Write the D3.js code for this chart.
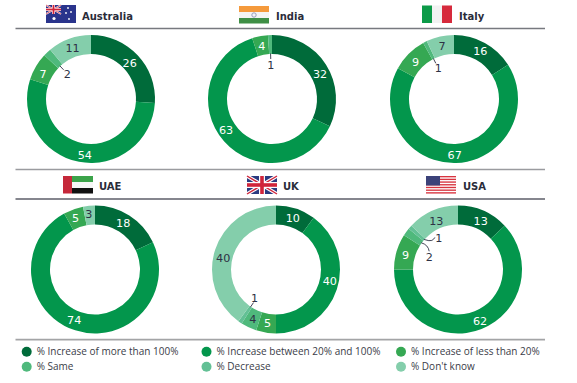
<!DOCTYPE html>
<html><head><meta charset="utf-8">
<script src="https://cdnjs.cloudflare.com/ajax/libs/d3/7.8.5/d3.min.js"></script>
<style>html,body{margin:0;padding:0;background:#fff}svg{display:block}</style>
</head><body><svg id="c" width="577" height="383"></svg>
<script>
const categories=["% Increase of more than 100%","% Increase between 20% and 100%","% Increase of less than 20%","% Same","% Decrease","% Don't know"];
const colors=["#006b3a","#03964c","#35a853","#4fb97c","#63c095","#84ceab"];
const countries=["Australia","India","Italy","UAE","UK","USA"];
const australia=[26,54,7,2,0,11];
const india=[32,63,4,1,0,0];
const italy=[16,67,9,1,0,7];
const uae=[18,74,5,0,0,3];
const uk=[10,40,5,4,1,40];
const usa=[13,62,9,2,1,13];
const seriesValues=[australia,india,italy,uae,uk,usa];

const ink="#2e3145";
const svg=d3.select("#c");
const cx=d3.scaleOrdinal().domain(countries).range([91,272,454,95,276,458]);
const cy=d3.scaleOrdinal().domain(countries).range([99,99,99,269.5,269.5,269.5]);
const R=64,r=45;
const pie=d3.pie().sort(null).value(d=>d);
const arc=d3.arc().innerRadius(r).outerRadius(R);
const fontN="'DejaVu Sans',Verdana,sans-serif";

// rules
[[28.5,"#77797f"],[169.5,"#9a9b9f"],[199,"#5c5e68"],[339.7,"#a3a4a6"]].forEach(([y,c],i)=>{
  svg.append("line").attr("x1",15.5).attr("x2",545).attr("y1",y).attr("y2",y).attr("stroke",c).attr("stroke-width",i===3?1.8:1.4);
});

// hand placement of labels, as in the original artwork
const nudge={"India|1":[-5,-5],"India|0":[2,4],"Australia|1":[4,2.5],"Australia|0":[-1,1],"Australia|2":[-1,3],
 "Italy|1":[-1,1.5],"Italy|2":[0,1.5],"UAE|0":[-1,-1],"UAE|1":[-4,-1],"UAE|2":[-1,0],"UAE|5":[-1,-1.5],
 "UK|1":[2,-5],"UK|5":[-1,5],"USA|0":[1,1],"USA|1":[2,1],"USA|2":[0,1],"USA|5":[0,1]};
const leaderOffset={"USA|3":[8,14.5,"c"],"USA|4":[15,-1,"s"]};

countries.forEach((name,ci)=>{
  const g=svg.append("g").attr("transform",`translate(${cx(name)},${cy(name)})`);
  const arcs=pie(seriesValues[ci]);
  g.selectAll("path").data(arcs).join("path").attr("d",arc)
    .attr("fill",(d,i)=>colors[i]);
  arcs.forEach((d,i)=>{
    if(!d.value) return;
    const mid=(d.startAngle+d.endAngle)/2,sx=Math.sin(mid),cyy=-Math.cos(mid);
    const key=name+"|"+i;
    if(d.value<=2 && !(name==="UK"&&i===3)){
      const x0=sx*(r+.5),y0=cyy*(r+.5);
      const off=leaderOffset[key];
      let lx,ly,path;
      if(off){
        lx=x0+off[0];ly=y0+off[1];
        path=off[2]==="s"
          ?`M${x0},${y0}Q${x0+6},${y0+2} ${x0+8},${y0+1}T${lx-4},${ly-1}`
          :`M${x0},${y0}Q${x0+7},${y0+2} ${lx},${ly-6}`;
      }else{
        const shift=name==="UK"?-2:0;
        lx=sx*34.5+shift;ly=cyy*34.5;
        path=`M${x0},${y0}L${sx*40},${cyy*40}`;
      }
      g.append("path").attr("d",path).attr("fill","none").attr("stroke",ink).attr("stroke-width",.9);
      g.append("text").attr("x",lx).attr("y",ly).attr("dy","0.36em").attr("text-anchor","middle")
        .attr("font-family",fontN).attr("font-size",11.2).attr("fill",ink).text(d.value);
    }else{
      const [x,y]=arc.centroid(d);
      const [nx,ny]=nudge[key]||[0,0];
      const dark=i===5||i===3;
      g.append("text").attr("x",x+nx).attr("y",y+ny).attr("dy","0.36em").attr("text-anchor","middle")
        .attr("font-family",fontN).attr("font-size",11.2).attr("fill",dark?ink:"#fff").text(d.value);
    }
  });
});

// titles
const titleX=[82,276,459,99,283,463],titleY=[20,20,20,190,190,190];
countries.forEach((n,i)=>{
  svg.append("text").attr("x",titleX[i]).attr("y",titleY[i]).attr("font-family",fontN)
    .attr("font-weight",700).attr("font-size",10).attr("fill","#2a2c3a").text(n);
});

// legend
const legendX=d3.scaleOrdinal().domain([0,1,2]).range([26.7,206.5,401]);
const legendY=d3.scalePoint().domain([0,1]).range([351.7,366.7]);
categories.forEach((c,i)=>{
  const col=i%3,row=Math.floor(i/3);
  svg.append("circle").attr("cx",legendX(col)).attr("cy",legendY(row)).attr("r",5).attr("fill",colors[i]);
  svg.append("text").attr("x",legendX(col)+10).attr("y",legendY(row)).attr("dy","0.35em")
    .attr("font-family","'Open Sans',sans-serif").attr("font-size",10).attr("fill","#3a3c48").text(c);
});

// flags
function rect(g,x,y,w,h,f){g.append("rect").attr("x",x).attr("y",y).attr("width",w).attr("height",h).attr("fill",f);}
function union(g,w,h){
  const L=(x1,y1,x2,y2,s,c)=>g.append("line").attr("x1",x1).attr("y1",y1).attr("x2",x2).attr("y2",y2).attr("stroke",c).attr("stroke-width",s);
  L(0,0,w,h,h*.2,"#fff");L(w,0,0,h,h*.2,"#fff");
  L(0,0,w,h,h*.08,"#d0243a");L(w,0,0,h,h*.08,"#d0243a");
  L(w/2,0,w/2,h,h*.33,"#fff");L(0,h/2,w,h/2,h*.33,"#fff");
  L(w/2,0,w/2,h,h*.2,"#d0243a");L(0,h/2,w,h/2,h*.2,"#d0243a");
}
function flag(x,y,draw){const g=svg.append("g").attr("transform",`translate(${x},${y})`);draw(g);}
flag(46,5,g=>{
  rect(g,0,0,30,18,"#2a348c");
  const u=g.append("g");union(u,15,9);
  [[22,3],[25,7],[20,8],[23,14],[8,13.5]].forEach(([a,b],i)=>g.append("circle").attr("cx",a).attr("cy",b).attr("r",i===4?1.6:.9).attr("fill","#fff"));
});
flag(239,6,g=>{
  rect(g,0,0,30,6,"#f59a3c");rect(g,0,6,30,6,"#f4f4f4");rect(g,0,12,30,5.5,"#3f8f46");
  g.append("circle").attr("cx",15).attr("cy",9).attr("r",2.2).attr("fill","none").attr("stroke","#8f93b8").attr("stroke-width",.9);
});
flag(422,5.5,g=>{rect(g,0,0,10,17.5,"#0c9a48");rect(g,10,0,10,17.5,"#f2f2f2");rect(g,20,0,10,17.5,"#d62a3c");});
flag(63,176,g=>{rect(g,9,0,21,6,"#3ba34a");rect(g,9,6,21,6,"#f6f6f6");rect(g,9,12,21,5.5,"#111");rect(g,0,0,9,17.5,"#c5283a");});
flag(247,176,g=>{rect(g,0,0,30,18,"#2a3a80");union(g,30,18);});
flag(426,176,g=>{
  rect(g,0,0,30,17.5,"#fff");
  d3.range(0,7).forEach(i=>rect(g,0,i*2.7,30,1.35,"#d8343f"));
  rect(g,0,0,14,9.5,"#3b4279");
});
</script></body></html>
